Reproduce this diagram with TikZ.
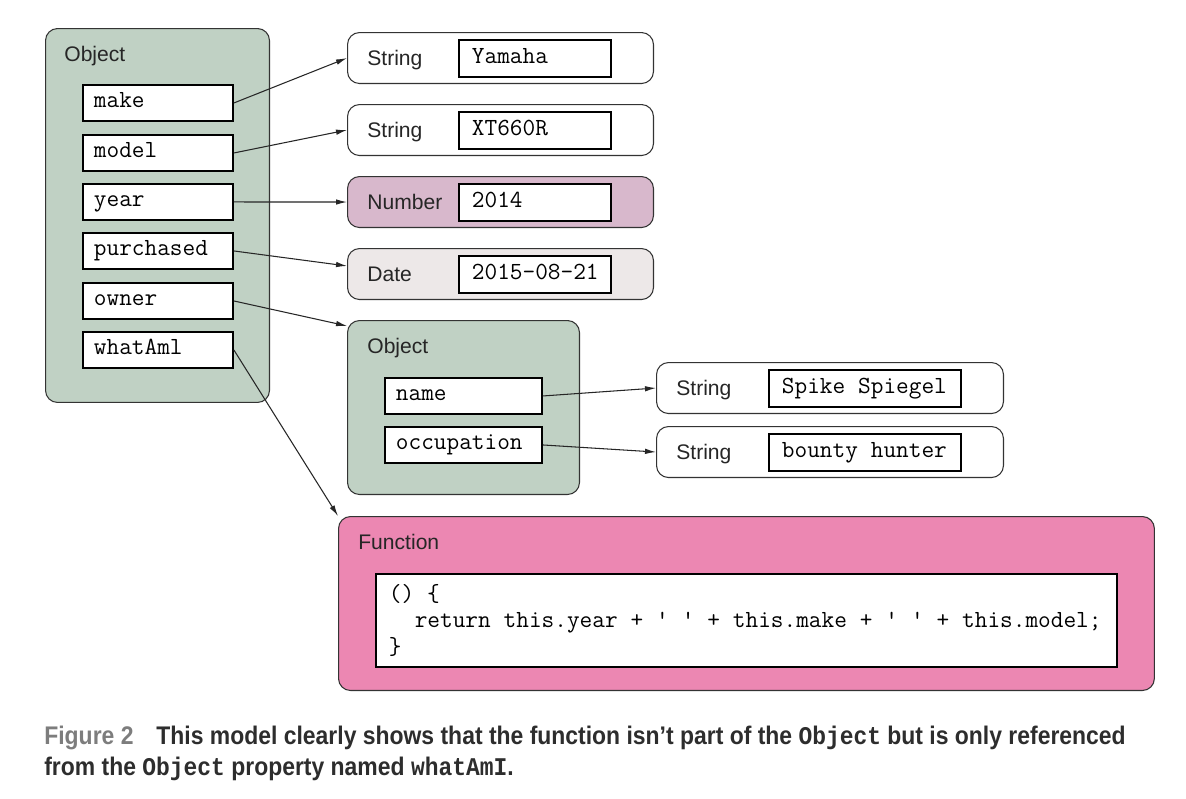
\documentclass[tikz,border=0pt]{standalone}
\usepackage{fontspec}
\usepackage{graphicx}
\setmainfont{Liberation Sans}
\newfontfamily\capmono{Liberation Mono}
\newcommand\monotext{\fontsize{14}{15}\selectfont\ttfamily}
\newcommand\codegap{\hspace*{0.525em}}
\usetikzlibrary{arrows.meta}

\definecolor{objgreen}{RGB}{192,209,196}
\definecolor{numpink}{RGB}{216,184,204}
\definecolor{dategray}{RGB}{237,232,232}
\definecolor{funcpink}{RGB}{236,135,178}
\definecolor{capgray}{RGB}{125,125,125}
\definecolor{capdark}{RGB}{45,45,45}

\begin{document}
\begin{tikzpicture}[x=0.02cm, y=-0.02cm,
font=\fontsize{12}{14}\selectfont,
holder/.style={draw=black!80, line width=0.6pt, rounded corners=0.24cm, anchor=north west, inner sep=0},
propbox/.style={draw=black, fill=white, line width=1.1pt, anchor=north west, minimum height=0.72cm, text width=2.56cm, text height=8pt, text depth=2.3pt, inner xsep=0.22cm, inner ysep=0, align=left, font=\monotext},
innerbox/.style={draw=black, fill=white, line width=1.1pt, anchor=north west, minimum height=0.74cm, text width=#1, text height=8pt, text depth=2.3pt, inner xsep=0.26cm, inner ysep=0, align=left, font=\monotext},
innerbox/.default=2.52cm,
codebox/.style={draw=black, fill=white, line width=1.1pt, anchor=north west, minimum height=1.86cm, text width=14.3cm, inner xsep=0.26cm, inner ysep=0, align=left, font=\monotext},
typename/.style={anchor=base west, inner sep=0, text=black!85},
ref/.style={-{Latex[length=2.2mm,width=1.1mm]}, line width=0.6pt, black!85},
caption/.style={anchor=base west, inner sep=0, text=capdark, font=\fontsize{14.5}{16}\selectfont\bfseries},
]
\useasboundingbox[fill=white] (0,0) rectangle (1186,798);

%Containers
\node[holder, fill=objgreen, minimum width=4.48cm, minimum height=7.48cm] (car) at (45,28) {};
\node[holder, fill=white, minimum width=6.12cm, minimum height=1.02cm] (makestr) at (347,32) {};
\node[holder, fill=white, minimum width=6.12cm, minimum height=1.02cm] (modelstr) at (347,104) {};
\node[holder, fill=numpink, minimum width=6.12cm, minimum height=1.02cm] (yearnum) at (347,176) {};
\node[holder, fill=dategray, minimum width=6.12cm, minimum height=1.02cm] (bought) at (347,248) {};
\node[holder, fill=objgreen, minimum width=4.64cm, minimum height=3.48cm] (person) at (347,320) {};
\node[holder, fill=white, minimum width=6.94cm, minimum height=1.02cm] (namestr) at (656,362) {};
\node[holder, fill=white, minimum width=6.94cm, minimum height=1.02cm] (jobstr) at (656,426) {};
\node[holder, fill=funcpink, minimum width=16.32cm, minimum height=3.48cm] (func) at (338,516) {};

%Type names
\node[typename] (cartype)    at (64,61)   {Object};
\node[typename] (maketype)   at (367,65)  {String};
\node[typename] (modeltype)  at (367,137) {String};
\node[typename] (yeartype)   at (367,209) {Number};
\node[typename] (boughttype) at (367,281) {Date};
\node[typename] (persontype) at (367,353) {Object};
\node[typename] (nametype)   at (676,395) {String};
\node[typename] (jobtype)    at (676,459) {String};
\node[typename] (functype)   at (358,549) {Function};

%Properties
\node[propbox] (make)      at (82,84)  {make};
\node[propbox] (model)     at (82,134) {model};
\node[propbox] (year)      at (82,183) {year};
\node[propbox] (purchased) at (82,232) {purchased};
\node[propbox] (owner)     at (82,282) {owner};
\node[propbox] (whatami)   at (82,331) {whatAml};
\node[propbox, text width=2.7cm] (name)       at (384,377) {name};
\node[propbox, text width=2.7cm] (occupation) at (384,426) {occupation};

%Values
\node[innerbox] (makeval)   at (458,39)  {Yamaha};
\node[innerbox] (modelval)  at (458,111) {XT660R};
\node[innerbox] (yearval)   at (458,183) {2014};
\node[innerbox] (boughtval) at (458,255) {2015-08-21};
\node[innerbox=3.32cm] (nameval) at (768,369) {Spike\codegap Spiegel};
\node[innerbox=3.32cm] (jobval)  at (768,433) {bounty\codegap hunter};
\node[codebox] (code) at (375,573)
  {()\codegap\{\\
   \codegap\codegap return\codegap this.year\codegap+\codegap'\codegap'\codegap+\codegap this.make\codegap+\codegap'\codegap'\codegap+\codegap this.model;\\
   \}};

%Lines
\draw[ref] (make.east) -- (makestr.west);
\draw[ref] (model.east) -- (modelstr.west);
\draw[ref] (year.east) -- (yearnum.west);
\draw[ref] (purchased.east) -- (bought.177);
\draw[ref] (owner.east) -- (person.145);
\draw[ref] (whatami.east) -- (func.north west);
\draw[ref] (name.east) -- (namestr.west);
\draw[ref] (occupation.east) -- (jobstr.west);

%Caption
\node[caption] (capone) at (44,744)
  {\scalebox{0.9}[1]{\textcolor{capgray}{Figure 2}\quad This model clearly shows that the function isn’t part of the {\capmono Object} but is only referenced}};
\node[caption] (captwo) at (44,775)
  {\scalebox{0.9}[1]{from the {\capmono Object} property named {\capmono whatAmI}.}};
\end{tikzpicture}
\end{document}
